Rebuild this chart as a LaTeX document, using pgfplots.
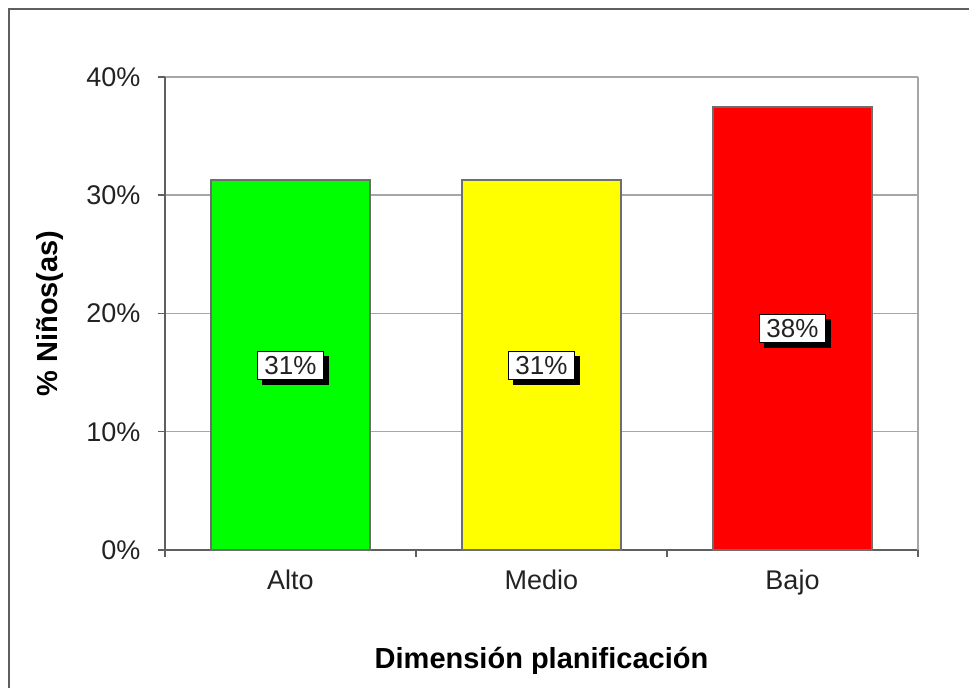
\documentclass[border=0pt]{standalone}
\usepackage{fontspec}
\setmainfont{Liberation Sans}
\usepackage{pgfplots}
\pgfplotsset{compat=1.18}
\usetikzlibrary{shadows}

\definecolor{framegray}{HTML}{5F5F5F}
\definecolor{gridgray}{HTML}{A6A6A6}
\definecolor{edgegray}{HTML}{6E6E6E}
\definecolor{barGreen}{HTML}{00FF00}
\definecolor{barYellow}{HTML}{FFFF00}
\definecolor{barRed}{HTML}{FF0000}
\definecolor{txt}{HTML}{222222}

\begin{document}
\begin{tikzpicture}[x=1pt,y=1pt]
  \useasboundingbox (0,0) rectangle (969,688);
  % outer chart frame
  \draw[framegray, line width=2pt] (9,0) -- (9,679) -- (969,679);

  \begin{axis}[
    at={(165pt,138pt)}, anchor=south west,
    width=753pt, height=473pt, scale only axis,
    ybar, bar width=0.63, bar shift=0pt,
    xmin=-0.5, xmax=2.5,
    ymin=0, ymax=40,
    xtick={0,1,2},
    xticklabels={Alto,Medio,Bajo},
    major x tick style={draw=none},
    minor xtick={-0.5,0.5,1.5,2.5},
    minor x tick style={framegray, line width=1.5pt},
    minor tick length=7pt,
    ytick={0,10,20,30,40},
    yticklabel={\pgfmathprintnumber{\tick}\%},
    /pgf/number format/assume math mode=true,
    y tick style={framegray, line width=1.5pt},
    major tick length=7pt,
    tick align=outside,
    axis x line*=bottom, axis y line*=left,
    axis line style={framegray, line width=2pt, -},
    ymajorgrids, grid style={gridgray, line width=1.5pt},
    tick label style={font=\fontsize{27}{31}\selectfont, text=txt},
    xticklabel style={yshift=-9pt},
    yticklabel style={xshift=-14pt},
    xlabel={Dimensión planificación},
    ylabel={\% Niños(as)},
    label style={font=\bfseries\fontsize{29}{33}\selectfont, text=black},
    xlabel style={at={(axis description cs:0.5,-0.234)}, anchor=center},
    ylabel style={at={(axis description cs:-0.153,0.5)}, anchor=center},
    visualization depends on={y \as \rawy},
    nodes near coords={\pgfmathprintnumber[fixed,precision=0]{\pgfplotspointmeta}\%},
    every node near coord/.append style={
      anchor=center, yshift=-\rawy*5.9125pt,
      font=\fontsize{26}{30}\selectfont, text=txt,
      fill=white, draw=black, line width=0.8pt,
      inner xsep=7pt, inner ysep=5pt,
      drop shadow={shadow xshift=5pt, shadow yshift=-5pt, fill=black, opacity=1}},
    clip=false,
  ]
    \addplot[fill=barGreen, draw=edgegray, line width=2pt] coordinates {(0,31.25)};
    \addplot[fill=barYellow, draw=edgegray, line width=2pt] coordinates {(1,31.25)};
    \addplot[fill=barRed, draw=edgegray, line width=2pt] coordinates {(2,37.5)};
    % right border of the plot area
    \draw[gridgray, line width=1.5pt] (rel axis cs:1,0) -- (rel axis cs:1,1);
  \end{axis}
\end{tikzpicture}
\end{document}
